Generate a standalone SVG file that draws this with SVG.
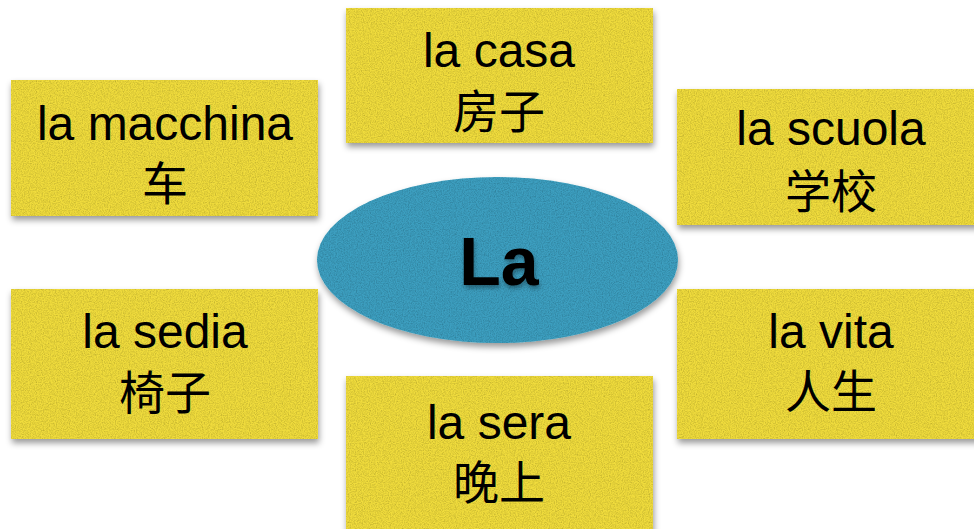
<svg xmlns="http://www.w3.org/2000/svg" width="974" height="529" viewBox="0 0 974 529">
  <defs>
    <filter id="tex" x="-10%" y="-10%" width="125%" height="130%">
      <feGaussianBlur in="SourceAlpha" stdDeviation="3" result="b"/>
      <feOffset in="b" dx="1" dy="4" result="bo"/>
      <feFlood flood-color="#000" flood-opacity="0.4"/>
      <feComposite in2="bo" operator="in" result="shadow"/>
      <feTurbulence type="fractalNoise" baseFrequency="0.85" numOctaves="2" seed="4" result="n"/>
      <feColorMatrix in="n" type="matrix" values="0 0 0 0 0  0 0 0 0 0  0 0 0 0 0  0.7 0 0 0 -0.25" result="dark"/>
      <feComposite in="dark" in2="SourceAlpha" operator="in" result="darkIn"/>
      <feMerge>
        <feMergeNode in="shadow"/>
        <feMergeNode in="SourceGraphic"/>
        <feMergeNode in="darkIn"/>
      </feMerge>
    </filter>
    <filter id="tshadow" x="-20%" y="-20%" width="140%" height="150%">
      <feDropShadow dx="1" dy="3" stdDeviation="2" flood-color="#000" flood-opacity="0.35"/>
    </filter>
  </defs>
  <style>
    .card { fill: #f0dc3e; filter: url(#tex); }
    .hub { fill: #3c9fc0; filter: url(#tex); }
    .it { font-family: "Liberation Sans", "Noto Sans CJK SC", sans-serif; font-size: 48px; fill: #000; text-anchor: middle; }
    .zh { font-family: "Noto Sans CJK SC", "Liberation Sans", sans-serif; font-size: 46px; fill: #000; text-anchor: middle; }
    .hubt { font-family: "Liberation Sans", sans-serif; font-size: 68px; font-weight: bold; fill: #000; text-anchor: middle; filter: url(#tshadow); }
  </style>
  <rect width="974" height="529" fill="#ffffff"/>

  <g id="connectors"></g>

  <g id="node-macchina">
    <rect class="card" x="11" y="80" width="307" height="136"/>
    <text class="it" x="165" y="140">la macchina</text>
    <text class="zh" x="165" y="200">车</text>
  </g>

  <g id="node-casa">
    <rect class="card" x="346" y="8" width="307" height="135"/>
    <text class="it" x="499" y="67">la casa</text>
    <text class="zh" x="499" y="128">房子</text>
  </g>

  <g id="node-scuola">
    <rect class="card" x="677" y="89" width="307" height="136"/>
    <text class="it" x="831" y="145">la scuola</text>
    <text class="zh" x="831" y="208">学校</text>
  </g>

  <g id="node-la">
    <ellipse class="hub" cx="497.5" cy="260" rx="180.5" ry="83"/>
    <text class="hubt" x="499" y="285">La</text>
  </g>

  <g id="node-sedia">
    <rect class="card" x="11" y="289" width="307" height="150"/>
    <text class="it" x="165" y="348">la sedia</text>
    <text class="zh" x="165" y="409">椅子</text>
  </g>

  <g id="node-vita">
    <rect class="card" x="677" y="289" width="307" height="150"/>
    <text class="it" x="831" y="348">la vita</text>
    <text class="zh" x="831" y="408">人生</text>
  </g>

  <g id="node-sera">
    <rect class="card" x="346" y="376" width="307" height="165"/>
    <text class="it" x="499" y="439">la sera</text>
    <text class="zh" x="499" y="499">晚上</text>
  </g>
</svg>
